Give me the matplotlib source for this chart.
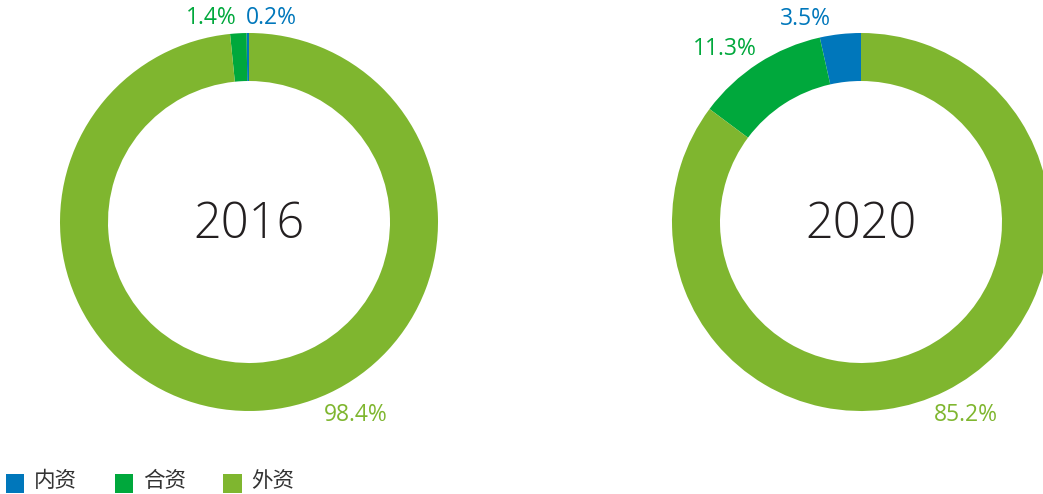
import matplotlib.pyplot as plt
from matplotlib.patches import Patch

plt.rcParams['font.family'] = ['Open Sans', 'Noto Sans CJK SC', 'DejaVu Sans']

# datos
categories = ['内资', '合资', '外资']
years = ['2016', '2020']
share_2016 = [0.2, 1.4, 98.4]
share_2020 = [3.5, 11.3, 85.2]
colors = ['#0077BB', '#00A83C', '#7FB62F']

W, H = 1043, 494
fig = plt.figure(figsize=(W / 100, H / 100), dpi=100)
ax = fig.add_axes([0, 0, 1, 1])

R = 189
ring = 48
centers = [(249, H - 222), (861, H - 222)]

for shares, yr, c in zip([share_2016, share_2020], years, centers):
    ax.pie(shares, colors=colors, startangle=90, counterclock=True,
           radius=R, center=c, wedgeprops=dict(width=ring, linewidth=0))
    ax.text(c[0], c[1] - 3, yr, ha='center', va='center', fontsize=35,
            color='#231F20', fontweight='light')

# etiquetas
lbl = dict(ha='center', va='center', fontsize=16.5)
ax.text(211, H - 18, f'{share_2016[1]}%', color=colors[1], **lbl)
ax.text(271, H - 18, f'{share_2016[0]}%', color=colors[0], **lbl)
ax.text(356, H - 415, f'{share_2016[2]}%', color=colors[2], **lbl)
ax.text(805, H - 19, f'{share_2020[0]}%', color=colors[0], **lbl)
ax.text(725, H - 49, f'{share_2020[1]}%', color=colors[1], **lbl)
ax.text(966, H - 415, f'{share_2020[2]}%', color=colors[2], **lbl)

ax.set_xlim(0, W)
ax.set_ylim(0, H)
ax.set_aspect('auto')
ax.axis('off')

handles = [Patch(facecolor=col, edgecolor='none') for col in colors]
leg = ax.legend(handles, categories, loc='lower left',
                bbox_to_anchor=(6 / W, 2 / H),
                ncol=3, frameon=False, fontsize=15.5, handlelength=0.85,
                handleheight=1.1, handletextpad=0.45, columnspacing=1.75,
                borderaxespad=0, borderpad=0)
for t in leg.get_texts():
    t.set_color('#333333')
for h in leg.legend_handles:
    h.set_height(13.2)
    h.set_y(h.get_y() - 2)

fig.savefig('out.png', dpi=100)
